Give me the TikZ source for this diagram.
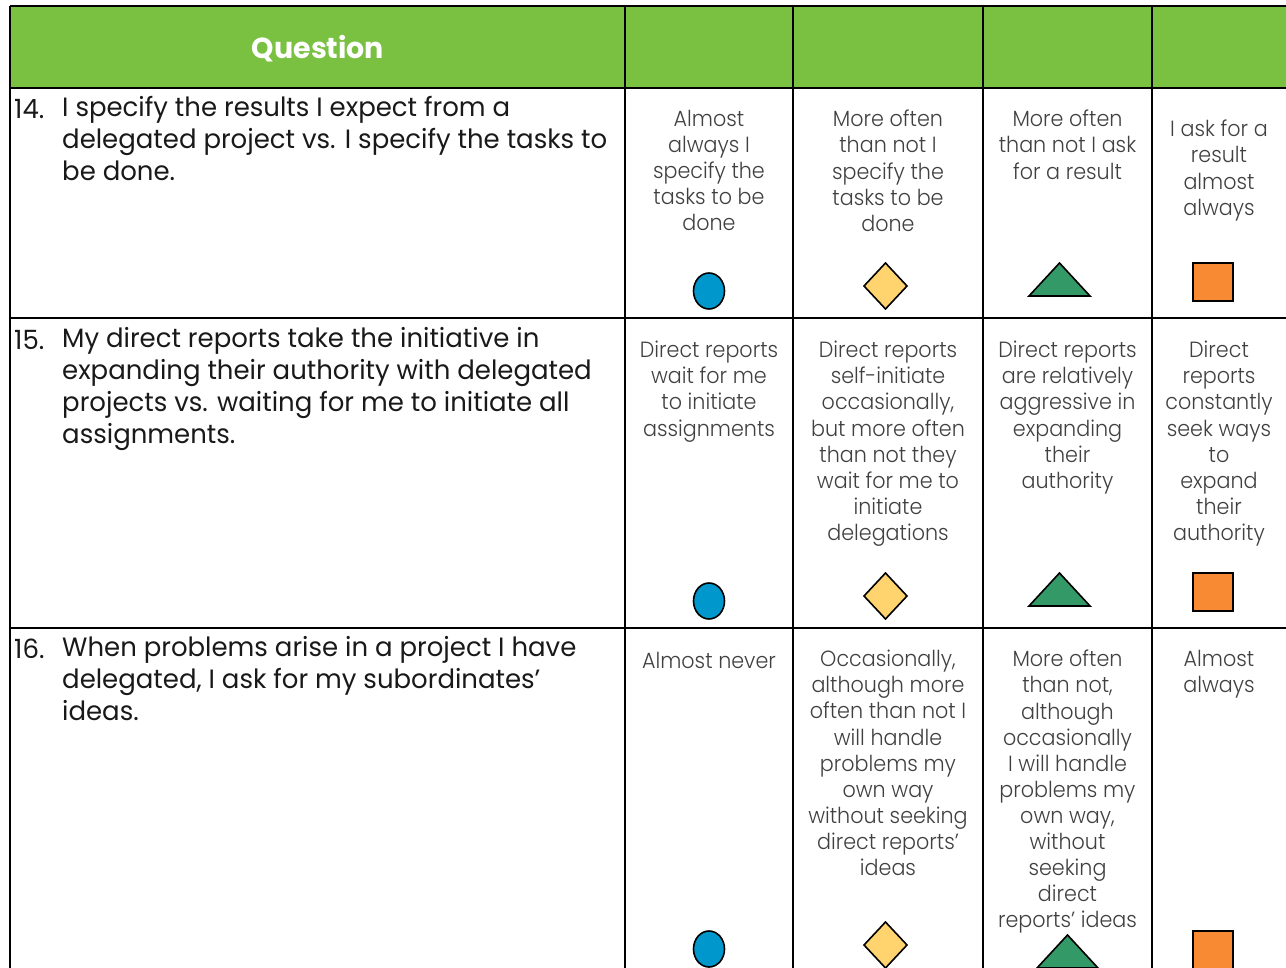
\documentclass[tikz,border=0pt]{standalone}
\usepackage{fontspec}
\setmainfont{Poppins}[FakeStretch=0.98]
\newfontfamily\repfont{Poppins Light}[FakeStretch=0.94]
\definecolor{vertclair}{RGB}{122,193,66}
\definecolor{bleu}{RGB}{0,152,204}
\definecolor{jaune}{RGB}{255,211,110}
\definecolor{vertfonce}{RGB}{51,153,102}
\definecolor{orangec}{RGB}{247,138,50}
\begin{document}
\begin{tikzpicture}[x=1pt,y=-1pt]
\tikzset{grille/.style={line width=2.6pt},
  question/.style={anchor=north west, align=left, inner sep=0pt, text=black!90, font=\fontsize{26.5}{32}\selectfont, execute at begin node=\strut},
  reponse/.style={anchor=north, align=center, inner sep=0pt, text=black!75, font=\repfont\fontsize{22}{26.1}\selectfont, execute at begin node=\strut},
  forme/.style={draw=black, line width=1.6pt}}
\useasboundingbox (0,0) rectangle (1286,968);
\clip (0,0) rectangle (1286,968);
% en-tete
\fill[vertclair] (10,6) rectangle (1300,88);
\node[anchor=base, inner sep=0pt, text=white, font=\bfseries\fontsize{29}{32}\selectfont] (titre) at (318,59) {Question};
\foreach \x in {10,625,793,983,1152} \draw[grille] (\x,6) -- (\x,990);
\foreach \y in {6,88,318,628} \draw[grille] (10,\y) -- (1300,\y);
% questions
\node[question] (N14) at (14,96) {14.};
\node[question] (Q14) at (62,96) {I specify the results I expect from a\\delegated project vs. I specify the tasks to\\be done.};
\node[question] (N15) at (14,327) {15.};
\node[question] (Q15) at (62,327) {My direct reports take the initiative in\\expanding their authority with delegated\\projects vs. waiting for me to initiate all\\assignments.};
\node[question] (N16) at (14,636) {16.};
\node[question] (Q16) at (62,636) {When problems arise in a project I have\\delegated, I ask for my subordinates’\\ideas.};
% reponses
\node[reponse] (R14a) at (709,110) {Almost\\always I\\specify the\\tasks to be\\done};
\node[reponse] (R14b) at (888,110) {More often\\than not I\\specify the\\tasks to be\\done};
\node[reponse] (R14c) at (1067.5,110) {More often\\than not I ask\\for a result};
\node[reponse] (R14d) at (1219,120) {I ask for a\\result\\almost\\always};
\node[reponse] (R15a) at (709,341) {Direct reports\\wait for me\\to initiate\\assignments};
\node[reponse] (R15b) at (888,341) {Direct reports\\self-initiate\\occasionally,\\but more often\\than not they\\wait for me to\\initiate\\delegations};
\node[reponse] (R15c) at (1067.5,341) {Direct reports\\are relatively\\aggressive in\\expanding\\their\\authority};
\node[reponse] (R15d) at (1219,341) {Direct\\reports\\constantly\\seek ways\\to\\expand\\their\\authority};
\node[reponse] (R16a) at (709,650) {Almost never};
\node[reponse] (R16b) at (888,650) {Occasionally,\\although more\\often than not I\\will handle\\problems my\\own way\\without seeking\\direct reports’\\ideas};
\node[reponse] (R16c) at (1067.5,650) {More often\\than not,\\although\\occasionally\\I will handle\\problems my\\own way,\\without\\seeking\\direct\\reports’ ideas};
\node[reponse] (R16d) at (1219,650) {Almost\\always};
% formes
\foreach \d in {0,310} {
  \draw[forme, fill=bleu] (709,{291+\d}) ellipse (15.5 and 18);
  \draw[forme, fill=jaune] (885.5,{263+\d}) -- (907,{286+\d}) -- (885.5,{309+\d}) -- (864,{286+\d}) -- cycle;
  \draw[forme, fill=vertfonce] (1029,{296+\d}) -- (1059.5,{263+\d}) -- (1090,{296+\d}) -- cycle;
  \draw[forme, fill=orangec] (1193,{263+\d}) rectangle (1233,{301+\d});
}
\draw[forme, fill=bleu] (709,949) ellipse (15.5 and 18);
\draw[forme, fill=jaune] (885.5,922) -- (907,945) -- (885.5,968) -- (864,945) -- cycle;
\draw[forme, fill=vertfonce] (1037,968) -- (1067.5,935) -- (1098,968) -- cycle;
\draw[forme, fill=orangec] (1193,931) rectangle (1233,969);
\end{tikzpicture}
\end{document}
